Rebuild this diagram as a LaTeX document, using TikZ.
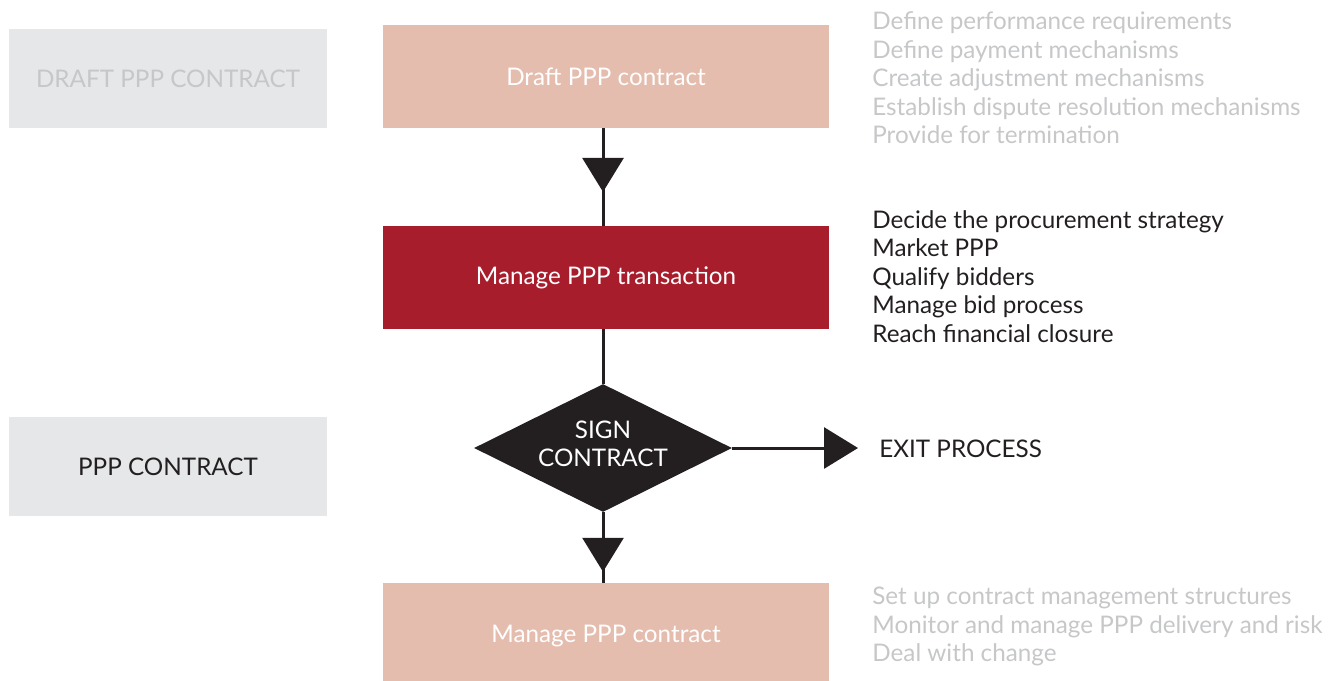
\documentclass[tikz,border=0pt]{standalone}
\usepackage{fontspec}
\setmainfont{Lato}
\definecolor{pinkbox}{RGB}{228, 189, 175}
\definecolor{redbox}{RGB}{167, 29, 44}
\definecolor{greybox}{RGB}{230, 231, 232}
\definecolor{greytext}{RGB}{198, 199, 201}
\definecolor{darkink}{RGB}{35, 31, 32}
\usetikzlibrary{shapes, arrows.meta, positioning, calc, decorations.markings}

\tikzset{
  stage/.style={rectangle, minimum width=8.92cm, minimum height=2.06cm, inner sep=0pt, text=white},
  phase/.style={rectangle, fill=greybox, minimum width=6.36cm, minimum height=1.98cm, inner sep=0pt},
  tasks/.style={align=left, inner sep=0pt, anchor=west},
  flow/.style={draw=darkink, line width=1.7pt},
  flowtip/.tip={Triangle[length=0.68cm, width=0.82cm]},
}

\begin{document}
\begin{tikzpicture}[x=0.02cm, y=-0.02cm, font=\fontsize{13.8}{16.2}\selectfont]
  \useasboundingbox (0,0) rectangle (1338,680);

  % phase labels on the left
  \node[phase, text=greytext] (draftphase) at (168, 78.5) {DRAFT PPP CONTRACT};
  \node[phase, text=darkink] (contractphase) at (168, 466.5) {PPP CONTRACT};

  % main column
  \node[stage, fill=pinkbox] (draft) at (606, 76.5) {Draft PPP contract};
  \node[stage, fill=redbox] (transaction) at (606, 277.5) {Manage PPP transaction};
  \node[diamond, aspect=2, fill=darkink, text=white, inner sep=0pt, minimum width=5.16cm, minimum height=2.56cm, align=center, text depth=4.6pt] (sign) at (603, 448) {SIGN\\CONTRACT};
  \node[stage, fill=pinkbox, minimum height=2.12cm] (manage) at (606, 636) {Manage PPP contract};

  % exit
  \node[tasks, text=darkink] (exit) at (879, 449) {EXIT PROCESS};

  % task lists
  \node[tasks, text=greytext] (drafttasks) at (872, 78) {Define performance requirements\\Define payment mechanisms\\Create adjustment mechanisms\\Establish dispute resolution mechanisms\\Provide for termination};
  \node[tasks, text=darkink] (transtasks) at (872, 276.5) {Decide the procurement strategy\\Market PPP\\Qualify bidders\\Manage bid process\\Reach financial closure};
  \node[tasks, text=greytext] (managetasks) at (872, 626.5) {Set up contract management structures\\Monitor and manage PPP delivery and risk\\Deal with change};

  % connectors
  \draw[flow, postaction={decorate}, decoration={markings, mark=at position 0.653 with {\arrow[darkink]{flowtip}}}] ($(draft.south)+(-3,0)$) -- ($(transaction.north)+(-3,0)$);
  \draw[flow] ($(transaction.south)+(-3,0)$) -- (sign.north);
  \draw[flow, postaction={decorate}, decoration={markings, mark=at position 0.845 with {\arrow[darkink]{flowtip}}}] (sign.south) -- ($(manage.north)+(-3,0)$);
  \draw[flow, -flowtip] (sign.east) -- ([xshift=-0.42cm]exit.west |- sign.east);
\end{tikzpicture}
\end{document}
